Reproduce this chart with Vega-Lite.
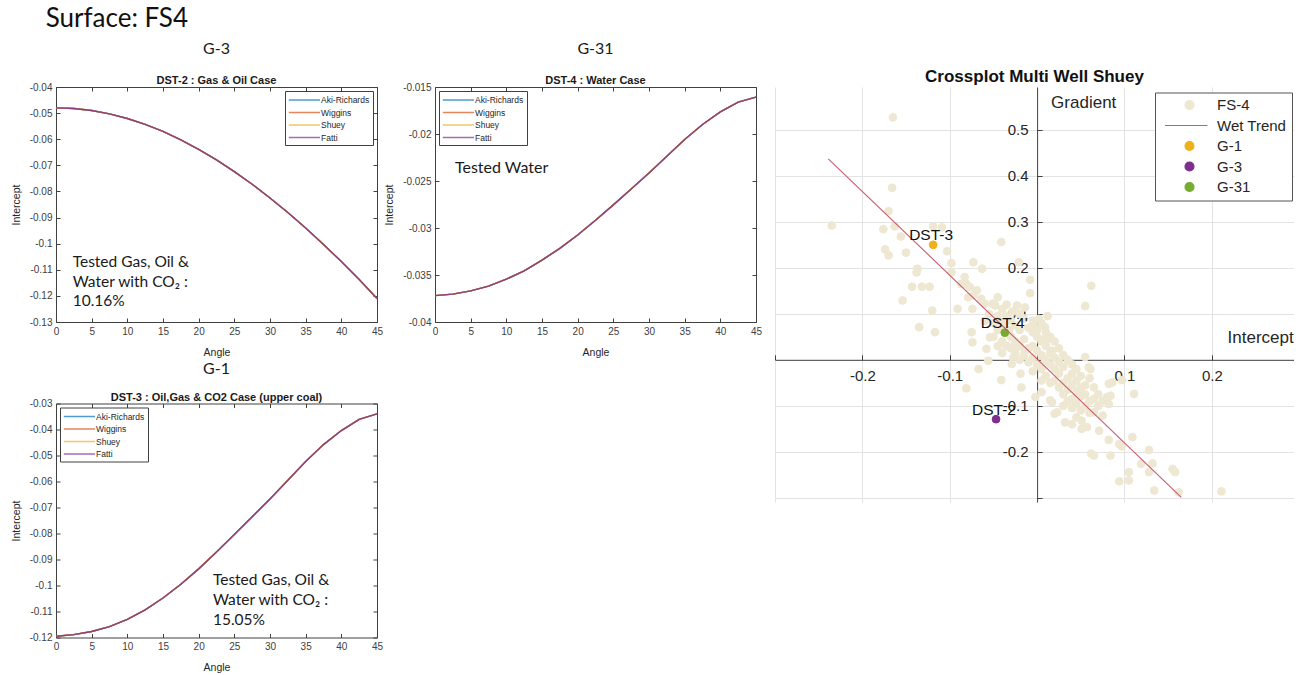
{
  "$schema": "https://vega.github.io/schema/vega-lite/v6.json",
  "background": "white",
  "padding": {"left": 10, "top": 6, "right": 0, "bottom": 0},
  "title": {"text": "Surface: FS4", "anchor": "start", "font": "Lato", "fontSize": 26, "fontWeight": "normal", "color": "#111111", "offset": 8, "dx": 35},
  "config": {
    "view": {"stroke": "#404040", "strokeWidth": 1},
    "axis": {"labelFont": "Liberation Sans", "titleFont": "Liberation Sans", "titleFontWeight": "normal"}
  },
  "datasets": {
    "p1": [
      {"angle": 0, "Aki-Richards": -0.048, "Wiggins": -0.048, "Shuey": -0.048, "Fatti": -0.048},
      {"angle": 2.5, "Aki-Richards": -0.04826, "Wiggins": -0.04826, "Shuey": -0.04826, "Fatti": -0.04826},
      {"angle": 5, "Aki-Richards": -0.04902, "Wiggins": -0.04902, "Shuey": -0.04902, "Fatti": -0.04902},
      {"angle": 7.5, "Aki-Richards": -0.05029, "Wiggins": -0.05029, "Shuey": -0.05029, "Fatti": -0.05029},
      {"angle": 10, "Aki-Richards": -0.05205, "Wiggins": -0.05205, "Shuey": -0.05205, "Fatti": -0.05205},
      {"angle": 12.5, "Aki-Richards": -0.0543, "Wiggins": -0.0543, "Shuey": -0.0543, "Fatti": -0.0543},
      {"angle": 15, "Aki-Richards": -0.05703, "Wiggins": -0.05703, "Shuey": -0.05703, "Fatti": -0.05703},
      {"angle": 17.5, "Aki-Richards": -0.06023, "Wiggins": -0.06023, "Shuey": -0.06023, "Fatti": -0.06023},
      {"angle": 20, "Aki-Richards": -0.06386, "Wiggins": -0.06386, "Shuey": -0.06386, "Fatti": -0.06386},
      {"angle": 22.5, "Aki-Richards": -0.06793, "Wiggins": -0.06793, "Shuey": -0.06793, "Fatti": -0.06793},
      {"angle": 25, "Aki-Richards": -0.0724, "Wiggins": -0.0724, "Shuey": -0.0724, "Fatti": -0.0724},
      {"angle": 27.5, "Aki-Richards": -0.07726, "Wiggins": -0.07726, "Shuey": -0.07726, "Fatti": -0.07726},
      {"angle": 30, "Aki-Richards": -0.0825, "Wiggins": -0.0825, "Shuey": -0.0825, "Fatti": -0.0825},
      {"angle": 32.5, "Aki-Richards": -0.08809, "Wiggins": -0.08809, "Shuey": -0.08809, "Fatti": -0.08809},
      {"angle": 35, "Aki-Richards": -0.09402, "Wiggins": -0.09402, "Shuey": -0.09402, "Fatti": -0.09402},
      {"angle": 37.5, "Aki-Richards": -0.10028, "Wiggins": -0.10028, "Shuey": -0.10028, "Fatti": -0.10028},
      {"angle": 40, "Aki-Richards": -0.10686, "Wiggins": -0.10686, "Shuey": -0.10686, "Fatti": -0.10686},
      {"angle": 42.5, "Aki-Richards": -0.11376, "Wiggins": -0.11376, "Shuey": -0.11376, "Fatti": -0.11376},
      {"angle": 45, "Aki-Richards": -0.121, "Wiggins": -0.121, "Shuey": -0.121, "Fatti": -0.121}
    ],
    "p2": [
      {"angle": 0, "Aki-Richards": -0.03719, "Wiggins": -0.03719, "Shuey": -0.03719, "Fatti": -0.03719},
      {"angle": 2.5, "Aki-Richards": -0.03704, "Wiggins": -0.03704, "Shuey": -0.03704, "Fatti": -0.03704},
      {"angle": 5, "Aki-Richards": -0.03669, "Wiggins": -0.03669, "Shuey": -0.03669, "Fatti": -0.03669},
      {"angle": 7.5, "Aki-Richards": -0.03619, "Wiggins": -0.03619, "Shuey": -0.03619, "Fatti": -0.03619},
      {"angle": 10, "Aki-Richards": -0.03544, "Wiggins": -0.03544, "Shuey": -0.03544, "Fatti": -0.03544},
      {"angle": 12.5, "Aki-Richards": -0.03455, "Wiggins": -0.03455, "Shuey": -0.03455, "Fatti": -0.03455},
      {"angle": 15, "Aki-Richards": -0.03341, "Wiggins": -0.03341, "Shuey": -0.03341, "Fatti": -0.03341},
      {"angle": 17.5, "Aki-Richards": -0.03217, "Wiggins": -0.03217, "Shuey": -0.03217, "Fatti": -0.03217},
      {"angle": 20, "Aki-Richards": -0.03074, "Wiggins": -0.03074, "Shuey": -0.03074, "Fatti": -0.03074},
      {"angle": 22.5, "Aki-Richards": -0.02917, "Wiggins": -0.02917, "Shuey": -0.02917, "Fatti": -0.02917},
      {"angle": 25, "Aki-Richards": -0.02754, "Wiggins": -0.02754, "Shuey": -0.02754, "Fatti": -0.02754},
      {"angle": 27.5, "Aki-Richards": -0.02586, "Wiggins": -0.02586, "Shuey": -0.02586, "Fatti": -0.02586},
      {"angle": 30, "Aki-Richards": -0.02415, "Wiggins": -0.02415, "Shuey": -0.02415, "Fatti": -0.02415},
      {"angle": 32.5, "Aki-Richards": -0.02237, "Wiggins": -0.02237, "Shuey": -0.02237, "Fatti": -0.02237},
      {"angle": 35, "Aki-Richards": -0.02059, "Wiggins": -0.02059, "Shuey": -0.02059, "Fatti": -0.02059},
      {"angle": 37.5, "Aki-Richards": -0.01899, "Wiggins": -0.01899, "Shuey": -0.01899, "Fatti": -0.01899},
      {"angle": 40, "Aki-Richards": -0.01764, "Wiggins": -0.01764, "Shuey": -0.01764, "Fatti": -0.01764},
      {"angle": 42.5, "Aki-Richards": -0.0166, "Wiggins": -0.0166, "Shuey": -0.0166, "Fatti": -0.0166},
      {"angle": 45, "Aki-Richards": -0.01607, "Wiggins": -0.01607, "Shuey": -0.01607, "Fatti": -0.01607}
    ],
    "p3": [
      {"angle": 0, "Aki-Richards": -0.1195, "Wiggins": -0.1195, "Shuey": -0.1195, "Fatti": -0.1195},
      {"angle": 2.5, "Aki-Richards": -0.1189, "Wiggins": -0.1189, "Shuey": -0.1189, "Fatti": -0.1189},
      {"angle": 5, "Aki-Richards": -0.1177, "Wiggins": -0.1177, "Shuey": -0.1177, "Fatti": -0.1177},
      {"angle": 7.5, "Aki-Richards": -0.1158, "Wiggins": -0.1158, "Shuey": -0.1158, "Fatti": -0.1158},
      {"angle": 10, "Aki-Richards": -0.1130, "Wiggins": -0.1130, "Shuey": -0.1130, "Fatti": -0.1130},
      {"angle": 12.5, "Aki-Richards": -0.1094, "Wiggins": -0.1094, "Shuey": -0.1094, "Fatti": -0.1094},
      {"angle": 15, "Aki-Richards": -0.1048, "Wiggins": -0.1048, "Shuey": -0.1048, "Fatti": -0.1048},
      {"angle": 17.5, "Aki-Richards": -0.0995, "Wiggins": -0.0995, "Shuey": -0.0995, "Fatti": -0.0995},
      {"angle": 20, "Aki-Richards": -0.0936, "Wiggins": -0.0936, "Shuey": -0.0936, "Fatti": -0.0936},
      {"angle": 22.5, "Aki-Richards": -0.0871, "Wiggins": -0.0871, "Shuey": -0.0871, "Fatti": -0.0871},
      {"angle": 25, "Aki-Richards": -0.0804, "Wiggins": -0.0804, "Shuey": -0.0804, "Fatti": -0.0804},
      {"angle": 27.5, "Aki-Richards": -0.0736, "Wiggins": -0.0736, "Shuey": -0.0736, "Fatti": -0.0736},
      {"angle": 30, "Aki-Richards": -0.0667, "Wiggins": -0.0667, "Shuey": -0.0667, "Fatti": -0.0667},
      {"angle": 32.5, "Aki-Richards": -0.0595, "Wiggins": -0.0595, "Shuey": -0.0595, "Fatti": -0.0595},
      {"angle": 35, "Aki-Richards": -0.0523, "Wiggins": -0.0523, "Shuey": -0.0523, "Fatti": -0.0523},
      {"angle": 37.5, "Aki-Richards": -0.0458, "Wiggins": -0.0458, "Shuey": -0.0458, "Fatti": -0.0458},
      {"angle": 40, "Aki-Richards": -0.0404, "Wiggins": -0.0404, "Shuey": -0.0404, "Fatti": -0.0404},
      {"angle": 42.5, "Aki-Richards": -0.0361, "Wiggins": -0.0361, "Shuey": -0.0361, "Fatti": -0.0361},
      {"angle": 45, "Aki-Richards": -0.034, "Wiggins": -0.034, "Shuey": -0.034, "Fatti": -0.034}
    ],
    "cross": [
      {"series": "FS-4", "intercept": -0.165, "gradient": 0.527},
      {"series": "FS-4", "intercept": -0.166, "gradient": 0.374},
      {"series": "FS-4", "intercept": -0.170, "gradient": 0.323},
      {"series": "FS-4", "intercept": -0.235, "gradient": 0.292},
      {"series": "FS-4", "intercept": -0.176, "gradient": 0.284},
      {"series": "FS-4", "intercept": -0.163, "gradient": 0.290},
      {"series": "FS-4", "intercept": -0.156, "gradient": 0.268},
      {"series": "FS-4", "intercept": -0.174, "gradient": 0.240},
      {"series": "FS-4", "intercept": -0.170, "gradient": 0.227},
      {"series": "FS-4", "intercept": -0.150, "gradient": 0.233},
      {"series": "FS-4", "intercept": -0.119, "gradient": 0.290},
      {"series": "FS-4", "intercept": -0.109, "gradient": 0.288},
      {"series": "FS-4", "intercept": -0.103, "gradient": 0.236},
      {"series": "FS-4", "intercept": -0.098, "gradient": 0.210},
      {"series": "FS-4", "intercept": -0.073, "gradient": 0.212},
      {"series": "FS-4", "intercept": -0.063, "gradient": 0.198},
      {"series": "FS-4", "intercept": -0.041, "gradient": 0.256},
      {"series": "FS-4", "intercept": -0.021, "gradient": 0.212},
      {"series": "FS-4", "intercept": -0.137, "gradient": 0.198},
      {"series": "FS-4", "intercept": -0.138, "gradient": 0.190},
      {"series": "FS-4", "intercept": -0.143, "gradient": 0.159},
      {"series": "FS-4", "intercept": -0.132, "gradient": 0.159},
      {"series": "FS-4", "intercept": -0.123, "gradient": 0.159},
      {"series": "FS-4", "intercept": -0.154, "gradient": 0.129},
      {"series": "FS-4", "intercept": -0.120, "gradient": 0.107},
      {"series": "FS-4", "intercept": -0.098, "gradient": 0.190},
      {"series": "FS-4", "intercept": -0.083, "gradient": 0.180},
      {"series": "FS-4", "intercept": -0.081, "gradient": 0.165},
      {"series": "FS-4", "intercept": -0.077, "gradient": 0.158},
      {"series": "FS-4", "intercept": -0.079, "gradient": 0.136},
      {"series": "FS-4", "intercept": -0.069, "gradient": 0.151},
      {"series": "FS-4", "intercept": -0.064, "gradient": 0.133},
      {"series": "FS-4", "intercept": -0.051, "gradient": 0.122},
      {"series": "FS-4", "intercept": -0.045, "gradient": 0.136},
      {"series": "FS-4", "intercept": -0.091, "gradient": 0.111},
      {"series": "FS-4", "intercept": -0.074, "gradient": 0.111},
      {"series": "FS-4", "intercept": -0.008, "gradient": 0.174},
      {"series": "FS-4", "intercept": -0.008, "gradient": 0.145},
      {"series": "FS-4", "intercept": -0.023, "gradient": 0.118},
      {"series": "FS-4", "intercept": -0.014, "gradient": 0.114},
      {"series": "FS-4", "intercept": 0.062, "gradient": 0.161},
      {"series": "FS-4", "intercept": 0.055, "gradient": 0.117},
      {"series": "FS-4", "intercept": -0.087, "gradient": 0.165},
      {"series": "FS-4", "intercept": -0.073, "gradient": 0.140},
      {"series": "FS-4", "intercept": -0.060, "gradient": 0.122},
      {"series": "FS-4", "intercept": -0.048, "gradient": 0.118},
      {"series": "FS-4", "intercept": -0.117, "gradient": 0.060},
      {"series": "FS-4", "intercept": -0.075, "gradient": 0.060},
      {"series": "FS-4", "intercept": -0.054, "gradient": 0.049},
      {"series": "FS-4", "intercept": -0.041, "gradient": 0.082},
      {"series": "FS-4", "intercept": -0.004, "gradient": 0.075},
      {"series": "FS-4", "intercept": 0.009, "gradient": 0.071},
      {"series": "FS-4", "intercept": 0.002, "gradient": 0.089},
      {"series": "FS-4", "intercept": -0.058, "gradient": 0.024},
      {"series": "FS-4", "intercept": -0.025, "gradient": 0.035},
      {"series": "FS-4", "intercept": -0.027, "gradient": 0.006},
      {"series": "FS-4", "intercept": -0.014, "gradient": 0.020},
      {"series": "FS-4", "intercept": 0.009, "gradient": 0.046},
      {"series": "FS-4", "intercept": 0.017, "gradient": 0.020},
      {"series": "FS-4", "intercept": 0.009, "gradient": -0.001},
      {"series": "FS-4", "intercept": -0.135, "gradient": 0.071},
      {"series": "FS-4", "intercept": -0.074, "gradient": 0.038},
      {"series": "FS-4", "intercept": -0.067, "gradient": -0.020},
      {"series": "FS-4", "intercept": -0.056, "gradient": -0.002},
      {"series": "FS-4", "intercept": -0.081, "gradient": -0.062},
      {"series": "FS-4", "intercept": -0.041, "gradient": -0.044},
      {"series": "FS-4", "intercept": -0.019, "gradient": -0.030},
      {"series": "FS-4", "intercept": -0.029, "gradient": -0.009},
      {"series": "FS-4", "intercept": -0.018, "gradient": -0.060},
      {"series": "FS-4", "intercept": -0.002, "gradient": -0.081},
      {"series": "FS-4", "intercept": 0.005, "gradient": -0.070},
      {"series": "FS-4", "intercept": 0.015, "gradient": -0.088},
      {"series": "FS-4", "intercept": 0.020, "gradient": -0.117},
      {"series": "FS-4", "intercept": 0.032, "gradient": -0.136},
      {"series": "FS-4", "intercept": 0.051, "gradient": -0.150},
      {"series": "FS-4", "intercept": 0.057, "gradient": -0.146},
      {"series": "FS-4", "intercept": 0.062, "gradient": -0.204},
      {"series": "FS-4", "intercept": 0.084, "gradient": -0.208},
      {"series": "FS-4", "intercept": 0.055, "gradient": 0.006},
      {"series": "FS-4", "intercept": 0.059, "gradient": -0.016},
      {"series": "FS-4", "intercept": 0.082, "gradient": -0.052},
      {"series": "FS-4", "intercept": 0.097, "gradient": -0.044},
      {"series": "FS-4", "intercept": 0.111, "gradient": -0.074},
      {"series": "FS-4", "intercept": 0.080, "gradient": -0.081},
      {"series": "FS-4", "intercept": 0.075, "gradient": -0.121},
      {"series": "FS-4", "intercept": 0.094, "gradient": -0.183},
      {"series": "FS-4", "intercept": 0.109, "gradient": -0.168},
      {"series": "FS-4", "intercept": 0.128, "gradient": -0.196},
      {"series": "FS-4", "intercept": 0.119, "gradient": -0.226},
      {"series": "FS-4", "intercept": 0.128, "gradient": -0.244},
      {"series": "FS-4", "intercept": 0.105, "gradient": -0.244},
      {"series": "FS-4", "intercept": 0.094, "gradient": -0.264},
      {"series": "FS-4", "intercept": 0.105, "gradient": -0.262},
      {"series": "FS-4", "intercept": 0.134, "gradient": -0.284},
      {"series": "FS-4", "intercept": 0.155, "gradient": -0.237},
      {"series": "FS-4", "intercept": 0.158, "gradient": -0.244},
      {"series": "FS-4", "intercept": 0.162, "gradient": -0.288},
      {"series": "FS-4", "intercept": 0.211, "gradient": -0.286},
      {"series": "FS-4", "intercept": 0.061, "gradient": -0.020},
      {"series": "FS-4", "intercept": 0.086, "gradient": -0.049},
      {"series": "FS-4", "intercept": 0.084, "gradient": -0.078},
      {"series": "FS-4", "intercept": 0.082, "gradient": -0.096},
      {"series": "FS-4", "intercept": 0.065, "gradient": -0.114},
      {"series": "FS-4", "intercept": 0.023, "gradient": -0.114},
      {"series": "FS-4", "intercept": 0.051, "gradient": -0.132},
      {"series": "FS-4", "intercept": 0.071, "gradient": -0.154},
      {"series": "FS-4", "intercept": 0.082, "gradient": -0.174},
      {"series": "FS-4", "intercept": 0.097, "gradient": -0.188},
      {"series": "FS-4", "intercept": 0.065, "gradient": -0.208},
      {"series": "FS-4", "intercept": 0.132, "gradient": -0.225},
      {"series": "FS-4", "intercept": 0.017, "gradient": -0.092},
      {"series": "FS-4", "intercept": 0.012, "gradient": 0.095},
      {"series": "FS-4", "intercept": -0.035, "gradient": 0.095},
      {"series": "FS-4", "intercept": -0.030, "gradient": 0.085},
      {"series": "FS-4", "intercept": -0.025, "gradient": 0.075},
      {"series": "FS-4", "intercept": -0.020, "gradient": 0.065},
      {"series": "FS-4", "intercept": -0.015, "gradient": 0.090},
      {"series": "FS-4", "intercept": -0.010, "gradient": 0.070},
      {"series": "FS-4", "intercept": -0.005, "gradient": 0.060},
      {"series": "FS-4", "intercept": 0.000, "gradient": 0.050},
      {"series": "FS-4", "intercept": 0.005, "gradient": 0.040},
      {"series": "FS-4", "intercept": -0.030, "gradient": 0.050},
      {"series": "FS-4", "intercept": -0.025, "gradient": 0.040},
      {"series": "FS-4", "intercept": -0.020, "gradient": 0.030},
      {"series": "FS-4", "intercept": -0.015, "gradient": 0.045},
      {"series": "FS-4", "intercept": -0.010, "gradient": 0.025},
      {"series": "FS-4", "intercept": -0.005, "gradient": 0.030},
      {"series": "FS-4", "intercept": 0.000, "gradient": 0.020},
      {"series": "FS-4", "intercept": 0.005, "gradient": 0.010},
      {"series": "FS-4", "intercept": 0.010, "gradient": 0.030},
      {"series": "FS-4", "intercept": 0.015, "gradient": 0.015},
      {"series": "FS-4", "intercept": 0.010, "gradient": 0.000},
      {"series": "FS-4", "intercept": 0.015, "gradient": -0.010},
      {"series": "FS-4", "intercept": 0.020, "gradient": 0.005},
      {"series": "FS-4", "intercept": 0.025, "gradient": -0.005},
      {"series": "FS-4", "intercept": 0.020, "gradient": -0.020},
      {"series": "FS-4", "intercept": 0.025, "gradient": -0.030},
      {"series": "FS-4", "intercept": 0.030, "gradient": -0.015},
      {"series": "FS-4", "intercept": 0.035, "gradient": -0.040},
      {"series": "FS-4", "intercept": 0.030, "gradient": -0.050},
      {"series": "FS-4", "intercept": 0.040, "gradient": -0.030},
      {"series": "FS-4", "intercept": 0.040, "gradient": -0.055},
      {"series": "FS-4", "intercept": 0.045, "gradient": -0.045},
      {"series": "FS-4", "intercept": 0.045, "gradient": -0.070},
      {"series": "FS-4", "intercept": 0.050, "gradient": -0.060},
      {"series": "FS-4", "intercept": 0.050, "gradient": -0.080},
      {"series": "FS-4", "intercept": 0.055, "gradient": -0.075},
      {"series": "FS-4", "intercept": 0.060, "gradient": -0.090},
      {"series": "FS-4", "intercept": 0.055, "gradient": -0.100},
      {"series": "FS-4", "intercept": 0.065, "gradient": -0.085},
      {"series": "FS-4", "intercept": 0.035, "gradient": -0.065},
      {"series": "FS-4", "intercept": 0.025, "gradient": -0.060},
      {"series": "FS-4", "intercept": 0.020, "gradient": -0.045},
      {"series": "FS-4", "intercept": 0.010, "gradient": -0.035},
      {"series": "FS-4", "intercept": 0.005, "gradient": -0.020},
      {"series": "FS-4", "intercept": 0.000, "gradient": -0.010},
      {"series": "FS-4", "intercept": -0.005, "gradient": 0.005},
      {"series": "FS-4", "intercept": -0.010, "gradient": -0.005},
      {"series": "FS-4", "intercept": -0.015, "gradient": 0.010},
      {"series": "FS-4", "intercept": -0.020, "gradient": 0.000},
      {"series": "FS-4", "intercept": -0.025, "gradient": 0.015},
      {"series": "FS-4", "intercept": -0.030, "gradient": 0.025},
      {"series": "FS-4", "intercept": -0.035, "gradient": 0.030},
      {"series": "FS-4", "intercept": -0.040, "gradient": 0.040},
      {"series": "FS-4", "intercept": -0.045, "gradient": 0.030},
      {"series": "FS-4", "intercept": -0.040, "gradient": 0.015},
      {"series": "FS-4", "intercept": 0.015, "gradient": 0.050},
      {"series": "FS-4", "intercept": 0.020, "gradient": 0.040},
      {"series": "FS-4", "intercept": 0.025, "gradient": 0.025},
      {"series": "FS-4", "intercept": 0.030, "gradient": 0.010},
      {"series": "FS-4", "intercept": 0.035, "gradient": 0.000},
      {"series": "FS-4", "intercept": 0.040, "gradient": -0.010},
      {"series": "FS-4", "intercept": 0.045, "gradient": -0.020},
      {"series": "FS-4", "intercept": 0.050, "gradient": -0.035},
      {"series": "FS-4", "intercept": 0.030, "gradient": -0.075},
      {"series": "FS-4", "intercept": 0.040, "gradient": -0.085},
      {"series": "FS-4", "intercept": 0.045, "gradient": -0.095},
      {"series": "FS-4", "intercept": 0.065, "gradient": -0.060},
      {"series": "FS-4", "intercept": 0.070, "gradient": -0.075},
      {"series": "FS-4", "intercept": 0.070, "gradient": -0.100},
      {"series": "FS-4", "intercept": 0.075, "gradient": -0.090},
      {"series": "FS-4", "intercept": 0.060, "gradient": -0.115},
      {"series": "FS-4", "intercept": 0.050, "gradient": -0.110},
      {"series": "FS-4", "intercept": 0.040, "gradient": -0.105},
      {"series": "FS-4", "intercept": 0.035, "gradient": -0.090},
      {"series": "FS-4", "intercept": 0.000, "gradient": 0.065},
      {"series": "FS-4", "intercept": 0.005, "gradient": 0.080},
      {"series": "FS-4", "intercept": -0.005, "gradient": 0.085},
      {"series": "FS-4", "intercept": -0.020, "gradient": 0.100},
      {"series": "FS-4", "intercept": -0.028, "gradient": 0.105},
      {"series": "FS-4", "intercept": 0.010, "gradient": 0.060},
      {"series": "FS-4", "intercept": 0.012, "gradient": 0.045},
      {"series": "FS-4", "intercept": -0.050, "gradient": 0.050},
      {"series": "FS-4", "intercept": -0.045, "gradient": 0.065},
      {"series": "FS-4", "intercept": -0.038, "gradient": 0.075},
      {"series": "FS-4", "intercept": -0.032, "gradient": 0.065},
      {"series": "FS-4", "intercept": -0.055, "gradient": 0.100},
      {"series": "FS-4", "intercept": -0.050, "gradient": 0.080},
      {"series": "FS-4", "intercept": -0.045, "gradient": 0.095},
      {"series": "FS-4", "intercept": -0.060, "gradient": 0.085},
      {"series": "FS-4", "intercept": -0.040, "gradient": 0.110},
      {"series": "FS-4", "intercept": -0.035, "gradient": 0.120},
      {"series": "FS-4", "intercept": 0.060, "gradient": -0.040},
      {"series": "FS-4", "intercept": 0.055, "gradient": -0.055},
      {"series": "FS-4", "intercept": 0.015, "gradient": -0.050},
      {"series": "FS-4", "intercept": 0.005, "gradient": -0.045},
      {"series": "FS-4", "intercept": -0.005, "gradient": -0.025},
      {"series": "FS-4", "intercept": 0.030, "gradient": -0.100},
      {"series": "FS-4", "intercept": 0.045, "gradient": -0.125},
      {"series": "FS-4", "intercept": 0.040, "gradient": -0.140},
      {"series": "G-1", "intercept": -0.119, "gradient": 0.250, "label": "DST-3"},
      {"series": "G-3", "intercept": -0.047, "gradient": -0.129, "label": "DST-2"},
      {"series": "G-31", "intercept": -0.037, "gradient": 0.059, "label": "DST-4'"}
    ],
    "trend": [
      {"series": "Wet Trend", "intercept": -0.239, "gradient": 0.437},
      {"series": "Wet Trend", "intercept": 0.165, "gradient": -0.299}
    ],
    "axislabels": [
      {"label": "Gradient", "intercept": 0.016, "gradient": 0.558},
      {"label": "Intercept", "intercept": 0.218, "gradient": 0.048}
    ]
  },
  "spacing": 11,
  "resolve": {
    "scale": {"color": "independent", "fill": "independent", "stroke": "independent", "shape": "independent"},
    "legend": {"color": "independent", "fill": "independent", "stroke": "independent", "shape": "independent"}
  },
  "hconcat": [
    {
      "spacing": 2.5,
      "resolve": {"scale": {"color": "independent"}, "legend": {"color": "independent"}},
      "vconcat": [
        {
          "spacing": 0,
          "resolve": {"scale": {"color": "independent"}, "legend": {"color": "independent"}},
          "hconcat": [
            {
              "width": 321,
              "height": 235,
              "title": {"text": "G-3", "subtitle": "DST-2 : Gas & Oil Case", "font": "Lato", "fontSize": 16, "fontWeight": "normal", "color": "#1a1a1a", "subtitleFont": "Liberation Sans", "subtitleFontSize": 11, "subtitleFontWeight": "bold", "subtitleColor": "#1a1a1a", "subtitlePadding": 18, "offset": -3.7, "anchor": "middle"},
              "resolve": {"axis": {"x": "independent", "y": "independent"}},
              "layer": [
                {
                  "data": {"name": "p1"},
                  "transform": [{"fold": ["Aki-Richards", "Wiggins", "Shuey", "Fatti"]}],
                  "mark": {"type": "line", "strokeWidth": 1.4, "opacity": 0.85},
                  "encoding": {
                    "x": {"field": "angle", "type": "quantitative", "scale": {"domain": [0, 45], "nice": false}, "axis": {"title": "Angle", "values": [0, 5, 10, 15, 20, 25, 30, 35, 40, 45], "grid": false, "domain": false, "tickSize": -4, "tickColor": "#404040", "labelFontSize": 10, "labelColor": "#404040", "labelPadding": 8, "labelFlush": false, "titleFontSize": 10.5, "titleColor": "#262626", "titlePadding": 11}},
                    "y": {"field": "value", "type": "quantitative", "scale": {"domain": [-0.13, -0.04], "nice": false, "zero": false}, "axis": {"title": "Intercept", "values": [-0.13, -0.12, -0.11, -0.1, -0.09, -0.08, -0.07, -0.06, -0.05, -0.04], "labelExpr": "'' + datum.value", "grid": false, "domain": false, "tickSize": -4, "tickColor": "#404040", "labelFontSize": 10, "labelColor": "#404040", "labelPadding": 8, "titleFontSize": 10.5, "titleColor": "#262626", "titlePadding": 8}},
                    "color": {"field": "key", "type": "nominal", "sort": null, "scale": {"domain": ["Aki-Richards", "Wiggins", "Shuey", "Fatti"], "range": ["#0072BD", "#D95319", "#EDB120", "#7E2F8E"]}, "legend": {"orient": "top-right", "offset": 4, "title": null, "strokeColor": "#404040", "fillColor": "white", "padding": 3, "symbolType": "M-1,0L5,0", "symbolSize": 108, "symbolStrokeWidth": 1.5, "symbolOpacity": 0.7, "labelFont": "Liberation Sans", "labelFontSize": 8.5, "labelColor": "#262626", "labelOffset": 21, "rowPadding": 1.5}}
                  }
                },
                {
                  "data": {"values": [{"angle": 2.34, "value": -0.1091, "note": ["Tested Gas, Oil &", "Water with CO₂ :", "10.16%"]}]},
                  "mark": {"type": "text", "align": "left", "baseline": "alphabetic", "font": "Lato", "fontSize": 15.5, "lineHeight": 19.5, "color": "#1a1a1a"},
                  "encoding": {
                    "x": {"field": "angle", "type": "quantitative", "axis": {"orient": "top", "title": null, "labels": false, "domain": false, "grid": false, "tickSize": -4, "tickColor": "#404040", "values": [0, 5, 10, 15, 20, 25, 30, 35, 40, 45]}},
                    "y": {"field": "value", "type": "quantitative", "axis": {"orient": "right", "title": null, "labels": false, "domain": false, "grid": false, "tickSize": -4, "tickColor": "#404040", "values": [-0.13, -0.12, -0.11, -0.1, -0.09, -0.08, -0.07, -0.06, -0.05, -0.04]}},
                    "text": {"field": "note", "type": "nominal"}
                  }
                }
              ]
            },
            {
              "width": 321,
              "height": 235,
              "title": {"text": "G-31", "subtitle": "DST-4 : Water Case", "font": "Lato", "fontSize": 16, "fontWeight": "normal", "color": "#1a1a1a", "subtitleFont": "Liberation Sans", "subtitleFontSize": 11, "subtitleFontWeight": "bold", "subtitleColor": "#1a1a1a", "subtitlePadding": 18, "offset": -3.7, "anchor": "middle"},
              "resolve": {"axis": {"x": "independent", "y": "independent"}},
              "layer": [
                {
                  "data": {"name": "p2"},
                  "transform": [{"fold": ["Aki-Richards", "Wiggins", "Shuey", "Fatti"]}],
                  "mark": {"type": "line", "strokeWidth": 1.4, "opacity": 0.85},
                  "encoding": {
                    "x": {"field": "angle", "type": "quantitative", "scale": {"domain": [0, 45], "nice": false}, "axis": {"title": "Angle", "values": [0, 5, 10, 15, 20, 25, 30, 35, 40, 45], "grid": false, "domain": false, "tickSize": -4, "tickColor": "#404040", "labelFontSize": 10, "labelColor": "#404040", "labelPadding": 8, "labelFlush": false, "titleFontSize": 10.5, "titleColor": "#262626", "titlePadding": 11}},
                    "y": {"field": "value", "type": "quantitative", "scale": {"domain": [-0.04, -0.015], "nice": false, "zero": false}, "axis": {"title": "Intercept", "values": [-0.04, -0.035, -0.03, -0.025, -0.02, -0.015], "labelExpr": "'' + datum.value", "grid": false, "domain": false, "tickSize": -4, "tickColor": "#404040", "labelFontSize": 10, "labelColor": "#404040", "labelPadding": 8, "titleFontSize": 10.5, "titleColor": "#262626", "titlePadding": 8}},
                    "color": {"field": "key", "type": "nominal", "sort": null, "scale": {"domain": ["Aki-Richards", "Wiggins", "Shuey", "Fatti"], "range": ["#0072BD", "#D95319", "#EDB120", "#7E2F8E"]}, "legend": {"orient": "top-left", "offset": 4, "title": null, "strokeColor": "#404040", "fillColor": "white", "padding": 3, "symbolType": "M-1,0L5,0", "symbolSize": 108, "symbolStrokeWidth": 1.5, "symbolOpacity": 0.7, "labelFont": "Liberation Sans", "labelFontSize": 8.5, "labelColor": "#262626", "labelOffset": 21, "rowPadding": 1.5}}
                  }
                },
                {
                  "data": {"values": [{"angle": 2.8, "value": -0.02419, "note": "Tested Water"}]},
                  "mark": {"type": "text", "align": "left", "baseline": "alphabetic", "font": "Lato", "fontSize": 16, "color": "#1a1a1a"},
                  "encoding": {
                    "x": {"field": "angle", "type": "quantitative", "axis": {"orient": "top", "title": null, "labels": false, "domain": false, "grid": false, "tickSize": -4, "tickColor": "#404040", "values": [0, 5, 10, 15, 20, 25, 30, 35, 40, 45]}},
                    "y": {"field": "value", "type": "quantitative", "axis": {"orient": "right", "title": null, "labels": false, "domain": false, "grid": false, "tickSize": -4, "tickColor": "#404040", "values": [-0.04, -0.035, -0.03, -0.025, -0.02, -0.015]}},
                    "text": {"field": "note", "type": "nominal"}
                  }
                }
              ]
            }
          ]
        },
        {
          "width": 321,
          "height": 234,
          "title": {"text": "G-1", "subtitle": "DST-3 : Oil,Gas & CO2 Case (upper coal)", "font": "Lato", "fontSize": 16, "fontWeight": "normal", "color": "#1a1a1a", "subtitleFont": "Liberation Sans", "subtitleFontSize": 11, "subtitleFontWeight": "bold", "subtitleColor": "#1a1a1a", "subtitlePadding": 15, "offset": -4.7, "anchor": "middle"},
          "resolve": {"axis": {"x": "independent", "y": "independent"}},
          "layer": [
            {
              "data": {"name": "p3"},
              "transform": [{"fold": ["Aki-Richards", "Wiggins", "Shuey", "Fatti"]}],
              "mark": {"type": "line", "strokeWidth": 1.4, "opacity": 0.85},
              "encoding": {
                "x": {"field": "angle", "type": "quantitative", "scale": {"domain": [0, 45], "nice": false}, "axis": {"title": "Angle", "values": [0, 5, 10, 15, 20, 25, 30, 35, 40, 45], "grid": false, "domain": false, "tickSize": -4, "tickColor": "#404040", "labelFontSize": 10, "labelColor": "#404040", "labelPadding": 8, "labelFlush": false, "titleFontSize": 10.5, "titleColor": "#262626", "titlePadding": 11}},
                "y": {"field": "value", "type": "quantitative", "scale": {"domain": [-0.12, -0.03], "nice": false, "zero": false}, "axis": {"title": "Intercept", "values": [-0.12, -0.11, -0.1, -0.09, -0.08, -0.07, -0.06, -0.05, -0.04, -0.03], "labelExpr": "'' + datum.value", "grid": false, "domain": false, "tickSize": -4, "tickColor": "#404040", "labelFontSize": 10, "labelColor": "#404040", "labelPadding": 8, "titleFontSize": 10.5, "titleColor": "#262626", "titlePadding": 8}},
                "color": {"field": "key", "type": "nominal", "sort": null, "scale": {"domain": ["Aki-Richards", "Wiggins", "Shuey", "Fatti"], "range": ["#0072BD", "#D95319", "#EDB120", "#7E2F8E"]}, "legend": {"orient": "top-left", "offset": 4, "title": null, "strokeColor": "#404040", "fillColor": "white", "padding": 3, "symbolType": "M-1,0L5,0", "symbolSize": 108, "symbolStrokeWidth": 1.5, "symbolOpacity": 0.7, "labelFont": "Liberation Sans", "labelFontSize": 8.5, "labelColor": "#262626", "labelOffset": 21, "rowPadding": 1.5}}
              }
            },
            {
              "data": {"values": [{"angle": 22.0, "value": -0.0999, "note": ["Tested Gas, Oil &", "Water with CO₂ :", "15.05%"]}]},
              "mark": {"type": "text", "align": "left", "baseline": "alphabetic", "font": "Lato", "fontSize": 15.5, "lineHeight": 20, "color": "#1a1a1a"},
              "encoding": {
                "x": {"field": "angle", "type": "quantitative", "axis": {"orient": "top", "title": null, "labels": false, "domain": false, "grid": false, "tickSize": -4, "tickColor": "#404040", "values": [0, 5, 10, 15, 20, 25, 30, 35, 40, 45]}},
                "y": {"field": "value", "type": "quantitative", "axis": {"orient": "right", "title": null, "labels": false, "domain": false, "grid": false, "tickSize": -4, "tickColor": "#404040", "values": [-0.12, -0.11, -0.1, -0.09, -0.08, -0.07, -0.06, -0.05, -0.04, -0.03]}},
                "text": {"field": "note", "type": "nominal"}
              }
            }
          ]
        }
      ]
    },
    {
      "width": 519,
      "height": 415,
      "view": {"stroke": null},
      "title": {"text": "Crossplot Multi Well Shuey", "font": "Liberation Sans", "fontSize": 17, "fontWeight": "bold", "color": "#111111", "offset": 0.8, "anchor": "middle"},
      "encoding": {
        "x": {"field": "intercept", "type": "quantitative", "scale": {"domain": [-0.3, 0.294], "nice": false, "zero": false}, "axis": {"title": null, "zindex": 0, "values": [-0.3, -0.2, -0.1, 0, 0.1, 0.2], "labelExpr": "datum.value == 0 || abs(datum.value) > 0.25 ? '' : '' + datum.value", "offset": -142.2, "grid": true, "gridColor": "#e3e3e3", "domainColor": "#404040", "tickColor": "#404040", "tickSize": -5, "labelFont": "Liberation Sans", "labelFontSize": 15, "labelColor": "#262626", "labelPadding": 14, "labelFlush": false, "labelOverlap": false}},
        "y": {"field": "gradient", "type": "quantitative", "scale": {"domain": [-0.309, 0.593], "nice": false, "zero": false}, "axis": {"title": null, "zindex": 0, "values": [-0.3, -0.2, -0.1, 0, 0.1, 0.2, 0.3, 0.4, 0.5], "labelExpr": "datum.value == 0 || datum.value < -0.25 ? '' : '' + datum.value", "offset": -262.1, "grid": true, "gridColor": "#e3e3e3", "domainColor": "#404040", "tickColor": "#404040", "tickSize": -5, "labelFont": "Liberation Sans", "labelFontSize": 15, "labelColor": "#262626", "labelPadding": 14, "labelFlush": false, "labelOverlap": false}}
      },
      "layer": [
        {
          "data": {"name": "cross"},
          "mark": {"type": "point", "filled": true, "size": 60, "strokeWidth": 1, "opacity": 1},
          "encoding": {
            "fill": {"field": "series", "type": "nominal", "scale": {"domain": ["FS-4", "Wet Trend", "G-1", "G-3", "G-31"], "range": ["#EEE7D1", "#C85A6E", "#EDB120", "#7E2F8E", "#77AC30"]}, "legend": {"orient": "none", "legendX": 380, "legendY": 5.5, "title": null, "strokeColor": "#555555", "fillColor": "white", "padding": 5, "symbolOffset": 22, "symbolSize": 80, "symbolStrokeWidth": 1.2, "labelFont": "Liberation Sans", "labelFontSize": 15, "labelColor": "#262626", "labelOffset": 20, "rowPadding": 4.5}},
            "stroke": {"field": "series", "type": "nominal", "scale": {"domain": ["FS-4", "Wet Trend", "G-1", "G-3", "G-31"], "range": ["#EEE7D1", "#C85A6E", "#EDB120", "#7E2F8E", "#77AC30"]}, "legend": {"orient": "none", "legendX": 380, "legendY": 5.5, "title": null, "strokeColor": "#555555", "fillColor": "white", "padding": 5, "symbolOffset": 22, "symbolSize": 80, "symbolStrokeWidth": 1.2, "labelFont": "Liberation Sans", "labelFontSize": 15, "labelColor": "#262626", "labelOffset": 20, "rowPadding": 4.5}},
            "shape": {"field": "series", "type": "nominal", "scale": {"domain": ["FS-4", "Wet Trend", "G-1", "G-3", "G-31"], "range": ["circle", "M-5.5,0L4,0", "circle", "circle", "circle"]}, "legend": {"orient": "none", "legendX": 380, "legendY": 5.5, "title": null, "strokeColor": "#555555", "fillColor": "white", "padding": 5, "symbolOffset": 22, "symbolSize": 80, "symbolStrokeWidth": 1.2, "labelFont": "Liberation Sans", "labelFontSize": 15, "labelColor": "#262626", "labelOffset": 20, "rowPadding": 4.5}}
          }
        },
        {
          "data": {"name": "trend"},
          "mark": {"type": "line", "strokeWidth": 1.1, "clip": true},
          "encoding": {
            "stroke": {"field": "series", "type": "nominal", "scale": {"domain": ["FS-4", "Wet Trend", "G-1", "G-3", "G-31"], "range": ["#EEE7D1", "#C85A6E", "#EDB120", "#7E2F8E", "#77AC30"]}, "legend": {"orient": "none", "legendX": 380, "legendY": 5.5, "title": null, "strokeColor": "#555555", "fillColor": "white", "padding": 5, "symbolOffset": 22, "symbolSize": 80, "symbolStrokeWidth": 1.2, "labelFont": "Liberation Sans", "labelFontSize": 15, "labelColor": "#262626", "labelOffset": 20, "rowPadding": 4.5}}
          }
        },
        {
          "data": {"name": "cross"},
          "transform": [{"filter": "isValid(datum.label)"}],
          "mark": {"type": "text", "align": "left", "baseline": "middle", "dx": -24, "dy": -9.5, "font": "Liberation Sans", "fontSize": 15.5, "color": "#111111"},
          "encoding": {"text": {"field": "label", "type": "nominal"}}
        },
        {
          "data": {"name": "axislabels"},
          "mark": {"type": "text", "align": "left", "baseline": "middle", "font": "Liberation Sans", "fontSize": 17, "color": "#262626", "clip": true},
          "encoding": {"text": {"field": "label", "type": "nominal"}}
        }
      ]
    }
  ]
}
